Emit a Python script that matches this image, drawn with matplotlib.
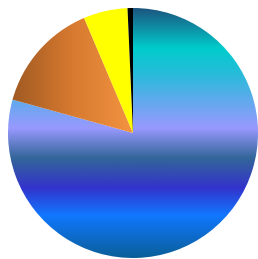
import matplotlib
matplotlib.use("Agg")
import matplotlib.pyplot as plt
import numpy as np
from matplotlib.colors import LinearSegmentedColormap

# slice shares (percent), clockwise from 12 o'clock
labels = ["A", "B", "C", "D"]
values = [79.3, 14.3, 5.7, 0.7]

# gradient stops for the big slice (top -> bottom)
blue_stops = [0.0, 0.16, 0.27, 0.38, 0.48, 0.60, 0.72, 0.83, 1.0]
blue_colors = ["#1c5580", "#00cccc", "#2bbadb", "#66a8ee", "#9999ff",
               "#336699", "#3333cc", "#1177ff", "#0a5f99"]
# gradient for the orange slice (left -> right)
orange_colors = ["#a05a22", "#d87a30", "#f29440"]

fig = plt.figure(figsize=(2.58, 2.59), dpi=100)
ax = fig.add_axes([8 / 258, 1 / 259, 250 / 258, 250 / 259])

wedges, _ = ax.pie(values, startangle=90, counterclock=False,
                   colors=["none", "none", "#ffff00", "#000000"],
                   wedgeprops=dict(linewidth=0))
ax.set_aspect("equal")
ax.axis("off")

# vertical gradient for the big slice
cmap_b = LinearSegmentedColormap.from_list("b", list(zip(blue_stops, blue_colors)))
grad_v = np.linspace(0, 1, 256).reshape(-1, 1)
img = ax.imshow(grad_v, cmap=cmap_b, extent=(-1, 1, -1, 1), origin="upper",
                aspect="auto", interpolation="bilinear")
img.set_clip_path(wedges[0])

# horizontal gradient for the orange slice
cmap_o = LinearSegmentedColormap.from_list("o", orange_colors)
grad_h = np.linspace(0, 1, 256).reshape(1, -1)
img2 = ax.imshow(grad_h, cmap=cmap_o, extent=(-0.97, 0, -1, 1),
                 aspect="auto", interpolation="bilinear")
img2.set_clip_path(wedges[1])

ax.set_xlim(-1, 1)
ax.set_ylim(-1, 1)

fig.savefig("out.png", dpi=100)
